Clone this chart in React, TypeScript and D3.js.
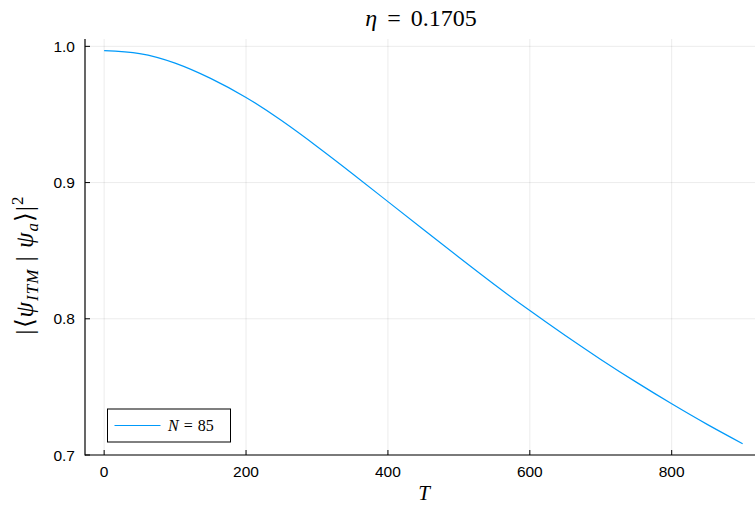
import React from "react";
import * as d3 from "d3";

const T_VALUES = [0, 50, 100, 150, 200, 250, 300, 350, 400, 450, 500, 550, 600, 650, 700, 750, 800, 850, 900];
const OVERLAP = [0.9969, 0.9947, 0.9877, 0.9765, 0.9625, 0.9455, 0.9265, 0.9065, 0.886, 0.8655, 0.8452, 0.8252, 0.806, 0.7877, 0.7702, 0.7535, 0.7376, 0.7225, 0.7083];
const X_TICKS = [0, 200, 400, 600, 800];
const Y_TICKS = [0.7, 0.8, 0.9, 1.0];
const TITLE_VALUE = "0.1705";
const LEGEND_LABEL = "85";

const W = 755;
const H = 508;
const LEFT = 85;
const TOP = 39;
const BOTTOM = 455;

export default function App() {
  const x = d3.scaleLinear().domain([-27, 927]).range([LEFT, 761.8]);
  const y = d3.scaleLinear().domain([0.7, 1.0054]).range([BOTTOM, TOP]);
  const data = T_VALUES.map((t, i) => [t, OVERLAP[i]] as [number, number]);
  const line = d3
    .line<[number, number]>()
    .x((d) => x(d[0]))
    .y((d) => y(d[1]))
    .curve(d3.curveNatural);

  const tickFont = "'Liberation Sans', Arial, sans-serif";
  const mathFont = "'Liberation Serif', 'Times New Roman', serif";
  const plotRight = W;

  return (
    <svg
      width={W}
      height={H}
      style={{ position: "absolute", left: 0, top: 0, background: "#fff" }}
    >
      <rect x={0} y={0} width={W} height={H} fill="#fff" />
      {/* grid */}
      {X_TICKS.map((t) => (
        <line key={"gx" + t} x1={x(t)} x2={x(t)} y1={TOP} y2={BOTTOM} stroke="#000" strokeOpacity={0.08} strokeWidth={1} />
      ))}
      {Y_TICKS.map((t) => (
        <line key={"gy" + t} x1={LEFT} x2={plotRight} y1={y(t)} y2={y(t)} stroke="#000" strokeOpacity={0.08} strokeWidth={1} />
      ))}
      {/* series */}
      <path d={line(data) || ""} fill="none" stroke="#009AFA" strokeWidth={1.2} />
      {/* axes */}
      <line x1={LEFT} x2={LEFT} y1={TOP} y2={BOTTOM + 0.5} stroke="#000" strokeWidth={1.2} />
      <line x1={LEFT} x2={plotRight} y1={BOTTOM} y2={BOTTOM} stroke="#000" strokeWidth={1.2} />
      {X_TICKS.map((t) => (
        <g key={"xt" + t}>
          <line x1={x(t)} x2={x(t)} y1={BOTTOM} y2={BOTTOM - 5} stroke="#000" strokeWidth={1} />
          <text x={x(t)} y={476.5} textAnchor="middle" fontFamily={tickFont} fontSize={15.5} fill="#000">
            {d3.format("d")(t)}
          </text>
        </g>
      ))}
      {Y_TICKS.map((t) => (
        <g key={"yt" + t}>
          <line x1={LEFT} x2={LEFT + 5} y1={y(t)} y2={y(t)} stroke="#000" strokeWidth={1} />
          <text x={75} y={y(t) + 5.5} textAnchor="end" fontFamily={tickFont} fontSize={15.5} fill="#000">
            {d3.format(".1f")(t)}
          </text>
        </g>
      ))}
      {/* title */}
      <text x={421} y={26} textAnchor="middle" fontFamily={mathFont} fontSize={24} fill="#000" wordSpacing={4}>
        <tspan fontStyle="italic">η</tspan>
        <tspan> = {TITLE_VALUE}</tspan>
      </text>
      {/* x label */}
      <text x={424} y={500} textAnchor="middle" fontFamily={mathFont} fontSize={21} fontStyle="italic" fill="#000">
        T
      </text>
      {/* y label */}
      <text
        transform="translate(33,265) rotate(-90)"
        textAnchor="middle"
        fontFamily={mathFont}
        fontSize={25}
        fill="#000"
        letterSpacing={1}
      >
        <tspan>|⟨</tspan>
        <tspan fontStyle="italic">ψ</tspan>
        <tspan fontStyle="italic" fontSize={17} dy={5}>ITM</tspan>
        <tspan dy={-5}> | </tspan>
        <tspan fontStyle="italic">ψ</tspan>
        <tspan fontStyle="italic" fontSize={17} dy={5}>a</tspan>
        <tspan dy={-5}>⟩|</tspan>
        <tspan fontSize={17} dy={-10}>2</tspan>
      </text>
      {/* legend */}
      <rect x={107.5} y={409} width={123} height={33} fill="#fff" stroke="#000" strokeWidth={1} />
      <line x1={114.5} x2={160.5} y1={425.5} y2={425.5} stroke="#009AFA" strokeWidth={1.2} />
      <text x={168} y={431} fontFamily={mathFont} fontSize={16} fill="#000" wordSpacing={1}>
        <tspan fontStyle="italic">N</tspan>
        <tspan> = {LEGEND_LABEL}</tspan>
      </text>
    </svg>
  );
}
